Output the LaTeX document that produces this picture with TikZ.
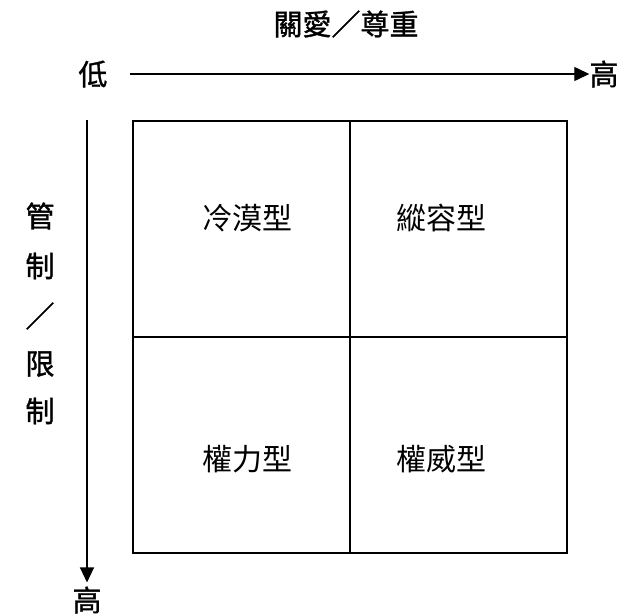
\documentclass[tikz,border=0pt]{standalone}
\usepackage{fontspec}
\newfontfamily\cjk{Noto Sans CJK TC}
\newfontfamily\cjkb{Noto Sans CJK TC}[FakeBold=1.2]
\usetikzlibrary{arrows.meta}
\begin{document}
\begin{tikzpicture}[x=1pt,y=-1pt,
  axislabel/.style={font=\cjkb\fontsize{29}{29}\selectfont, inner sep=0pt},
  quad/.style={font=\cjk\fontsize{30}{30}\selectfont, inner sep=0pt},
  axis/.style={line width=1.3pt, -{Triangle[length=15pt,width=14pt]}},
  grid/.style={line width=1.4pt}]
\useasboundingbox (0,0) rectangle (620,615);
\fill[white] (0,0) rectangle (620,615);
\node[axislabel] (title) at (346,24) {關愛／尊重};
\node[axislabel] (low) at (93,74) {低};
\node[axislabel] (highx) at (604,74) {高};
\coordinate (xs) at (130,74);
\draw[axis] (xs) -- (highx.west);
\coordinate (ys) at (87,120);
\node[axislabel] (highy) at (87,600) {高};
\draw[axis] (ys) -- ([yshift=4pt]highy.north);
\node[axislabel] (l1) at (40,216) {管};
\node[axislabel] (l2) at (40,266) {制};
\node[axislabel] (l3) at (40,316) {／};
\node[axislabel] (l4) at (40,364) {限};
\node[axislabel] (l5) at (40,411) {制};
\node[draw,grid,minimum width=434pt,minimum height=432pt,inner sep=0pt] (box) at (350,337) {};
\draw[grid] (box.north) -- (box.south);
\draw[grid] (box.west) -- (box.east);
\node[quad] (q1) at (247,218) {冷漠型};
\node[quad] (q2) at (441,218) {縱容型};
\node[quad] (q3) at (247,459) {權力型};
\node[quad] (q4) at (441,459) {權威型};
\end{tikzpicture}
\end{document}
